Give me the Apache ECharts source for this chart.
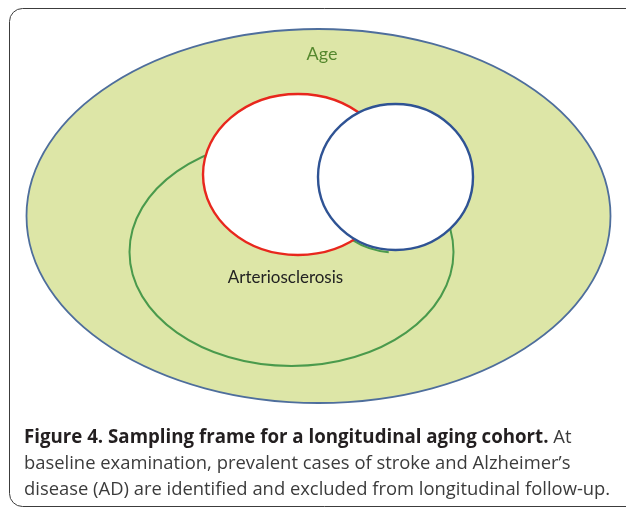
<!DOCTYPE html>
<html><head><meta charset="utf-8">
<script src="https://cdn.jsdelivr.net/npm/echarts@6/dist/echarts.min.js"></script>
<style>html,body{margin:0;padding:0;background:#fff}#c{width:626px;height:507px}</style>
</head><body><div id="c"></div>
<script>
// Sets of the sampling-frame diagram (diagram units on a hidden 626 x 507 value grid)
const setNames = ['Age', 'Arteriosclerosis', 'Stroke', 'AD'];
const centerX  = [318.5, 291.5, 298, 395.5];
const centerY  = [216, 252, 174.5, 177];
const radiusX  = [292, 162, 95, 77.5];
const radiusY  = [187, 114, 80.5, 73];
// label anchors (only Age and Arteriosclerosis are labelled)
const labelNames = ['Age', 'Arteriosclerosis'];
const labelX = [322, 285.5];
const labelY = [54, 278];
// small green edge visible between Stroke and AD circles (follows AD bottom)
const edgeArc = [395.5, 179.5, 77.5, 73, 95, 124]; // cx, cy, rx, ry, startDeg, endDeg

const captionBold = 'Figure 4. Sampling frame for a longitudinal aging cohort.';
const captionLines = [
  ' At',
  'baseline examination, prevalent cases of stroke and Alzheimer\u2019s',
  'disease (AD) are identified and excluded from longitudinal follow-up.'
];

const setStyles = [
  {fill: '#dde6a7', stroke: '#4e6e9c', lw: 1.8},
  {fill: 'none', stroke: '#4a9a4c', lw: 2},
  {fill: '#ffffff', stroke: '#e8271d', lw: 2.4},
  {fill: '#ffffff', stroke: '#2f5394', lw: 2.4}
];

// fit caption font size to the reference line width
const capFont = 'Open Sans';
const mctx = document.createElement('canvas').getContext('2d');
mctx.font = '100px "' + capFont + '"';
const w3 = mctx.measureText(captionLines[2]).width;
const capSize = Math.round(100 * 585 / w3 * 10) / 10;
const capBoldSize = Math.round(capSize * 1.018 * 10) / 10;

const chart = echarts.init(document.getElementById('c'), null, {renderer: 'canvas'});

const shapeData = setNames.map((n, i) => ({name: n, value: [centerX[i], centerY[i], radiusX[i], radiusY[i]]}));

chart.setOption({
  animation: false,
  grid: {left: 0, right: 0, top: 0, bottom: 0},
  xAxis: {type: 'value', min: 0, max: 626, show: false},
  yAxis: {type: 'value', min: 0, max: 507, inverse: true, show: false},
  graphic: [
    {type: 'rect', shape: {x: 9.5, y: 8.5, width: 720, height: 498, r: 13},
     style: {fill: 'none', stroke: '#3c3c3c', lineWidth: 1}, z: 1},
    {type: 'text', left: 24, top: 428, z: 10,
     style: {
       text: '{b|' + captionBold + '}{r|' + captionLines[0] + '}\n{r|' + captionLines[1] + '}\n{r|' + captionLines[2] + '}',
       rich: {
         b: {fontFamily: capFont, fontWeight: 'bold', fontSize: capBoldSize, fill: '#231f20', lineHeight: 26},
         r: {fontFamily: capFont, fontSize: capSize, fill: '#3b3b3b', lineHeight: 26}
       }
     }}
  ],
  series: [
    {
      type: 'custom',
      coordinateSystem: 'cartesian2d',
      data: shapeData,
      silent: true,
      z: 2,
      renderItem: function (params, api) {
        const i = params.dataIndex;
        const c = api.coord([api.value(0), api.value(1)]);
        const s = api.size([api.value(2), api.value(3)]);
        const st = setStyles[i];
        const children = [];
        if (i === 2) {
          // green edge peeking below the AD circle, drawn before Stroke/AD
          const ac = api.coord([edgeArc[0], edgeArc[1]]);
          const as = api.size([edgeArc[2], edgeArc[3]]);
          children.push({
            type: 'arc', x: ac[0], y: ac[1], scaleY: as[1] / as[0],
            shape: {cx: 0, cy: 0, r: as[0], startAngle: edgeArc[4] * Math.PI / 180, endAngle: edgeArc[5] * Math.PI / 180},
            style: {fill: 'none', stroke: '#4a9a4c', lineWidth: 2}
          });
        }
        children.push({
          type: 'ellipse',
          shape: {cx: c[0], cy: c[1], rx: s[0], ry: s[1]},
          style: {fill: st.fill, stroke: st.stroke, lineWidth: st.lw}
        });
        return {type: 'group', children: children};
      }
    },
    {
      type: 'custom',
      coordinateSystem: 'cartesian2d',
      data: labelNames.map((n, i) => ({name: n, value: [labelX[i], labelY[i]]})),
      silent: true,
      z: 5,
      renderItem: function (params, api) {
        const i = params.dataIndex;
        const c = api.coord([api.value(0), api.value(1)]);
        return {
          type: 'text', x: c[0], y: c[1],
          style: {
            text: labelNames[i], align: 'center', verticalAlign: 'middle',
            fontFamily: 'Lato', fontSize: i === 0 ? 18 : 17, fontWeight: 'normal',
            fill: i === 0 ? '#55882e' : '#222222'
          }
        };
      }
    }
  ]
});
</script>
</body></html>
